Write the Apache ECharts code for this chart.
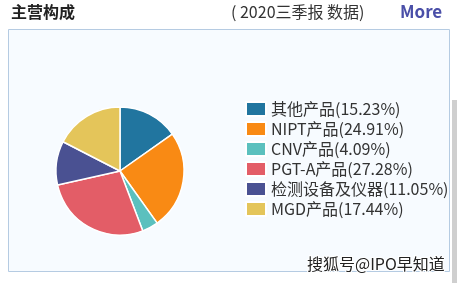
<!DOCTYPE html>
<html>
<head>
<meta charset="utf-8">
<script src="https://cdn.jsdelivr.net/npm/echarts@6/dist/echarts.min.js"></script>
<style>
html, body { margin: 0; padding: 0; background: #fff; }
#main { width: 457px; height: 283px; }
</style>
</head>
<body>
<div id="main"></div>
<script>
var categories = ['其他产品', 'NIPT产品', 'CNV产品', 'PGT-A产品', '检测设备及仪器', 'MGD产品'];
var shares = [15.23, 24.91, 4.09, 27.28, 11.05, 17.44];
var colors = ['#21759f', '#f98a14', '#5bc0be', '#e35d67', '#4a5192', '#e4c55a'];

var font = '"Noto Sans CJK SC", "Microsoft YaHei", sans-serif';

document.addEventListener('DOMContentLoaded', function () {
    var chart = echarts.init(document.getElementById('main'));
    var data = categories.map(function (name, i) {
        return { name: name, value: shares[i] };
    });
    var option = {
        animation: false,
        color: colors,
        graphic: [
            // 外框
            {
                type: 'rect', shape: { x: 8.5, y: 29.5, width: 441, height: 242 },
                style: { fill: '#f7fbff', stroke: '#b5cbe2', lineWidth: 1 }, z: -1
            },
            // 右侧滚动条
            {
                type: 'rect', shape: { x: 452, y: 100, width: 5, height: 183 },
                style: { fill: '#cfcfcf' }
            },
            {
                type: 'text', left: 11, top: 4,
                style: { text: '主营构成', font: 'bold 16px ' + font, fill: '#222' }
            },
            {
                type: 'text', left: 231, top: 4,
                style: { text: '( 2020三季报 数据)', font: '16px ' + font, fill: '#333' }
            },
            {
                type: 'text', left: 400, top: 3,
                style: { text: 'More', font: 'bold 17px ' + font, fill: '#4a4fa8' }
            },
            // 水印
            {
                type: 'text', left: 306, top: 255,
                style: {
                    text: '搜狐号@IPO早知道', font: '16px ' + font,
                    fill: '#222', stroke: '#fff', lineWidth: 2
                }
            }
        ],
        legend: {
            orient: 'vertical',
            left: 240,
            top: 96,
            itemWidth: 20,
            itemHeight: 14,
            itemGap: 4,
            icon: 'rect',
            textStyle: { fontSize: 16, fontFamily: font, color: '#333', lineHeight: 15 },
            formatter: function (name) {
                var i = categories.indexOf(name);
                return name + '(' + shares[i].toFixed(2) + '%)';
            }
        },
        series: [
            {
                type: 'pie',
                center: [120, 171],
                radius: 64,
                startAngle: 90,
                clockwise: true,
                label: { show: false },
                labelLine: { show: false },
                itemStyle: { borderColor: '#fff', borderWidth: 1.5 },
                data: data
            }
        ]
    };
    chart.setOption(option);
});
</script>
</body>
</html>
